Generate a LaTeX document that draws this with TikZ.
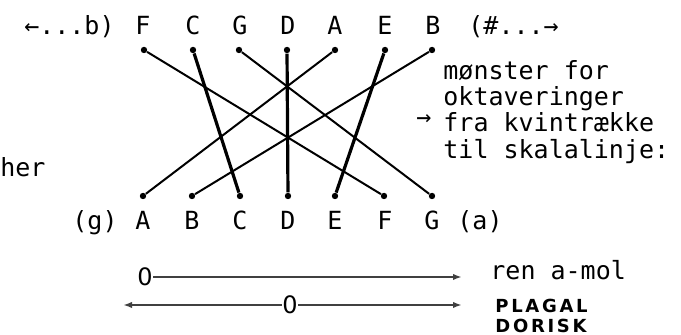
\documentclass[tikz,border=0pt]{standalone}
\usepackage{fontspec}
\setmonofont{DejaVu Sans Mono}
\setsansfont{DejaVu Sans}
\newfontfamily\capsfont[LetterSpace=15]{DejaVu Sans}
\usetikzlibrary{arrows.meta}

\begin{document}
\begin{tikzpicture}[x=0.5pt, y=-0.5pt,
    tone/.style={font=\ttfamily\fontsize{12.5}{14}\selectfont, inner sep=0pt, anchor=base},
    note/.style={font=\ttfamily\fontsize{12.5}{13.15}\selectfont, inner sep=0pt, anchor=base west},
    zero/.style={font=\sffamily\fontsize{12}{12}\selectfont, inner sep=0pt},
    caps/.style={font=\capsfont\bfseries\fontsize{9}{10}\selectfont, inner sep=0pt, anchor=base west},
    dot/.style={circle, fill, inner sep=0pt, minimum size=3.2pt},
    fine/.style={line width=1pt},
    heavy/.style={line width=1.6pt},
    axis/.style={line width=1pt, black!75},
    tip/.style={-{Latex[length=4.5pt,width=3.2pt]}}]

    \useasboundingbox (0,0) rectangle (681,335);

    % row of fifths
    \node[note, anchor=base east] (back) at (115,35) {←...b)};
    \node[tone] (fF) at (143,35) {F};
    \node[tone] (fC) at (193,35) {C};
    \node[tone] (fG) at (240,35) {G};
    \node[tone] (fD) at (288,35) {D};
    \node[tone] (fA) at (335,35) {A};
    \node[tone] (fE) at (385,35) {E};
    \node[tone] (fB) at (433,35) {B};
    \node[note] (fwd) at (468,35) {(\#...→};

    % scale row
    \node[tone] (lowg) at (95,230) {(g)};
    \node[tone] (sA) at (143,230) {A};
    \node[tone] (sB) at (192,230) {B};
    \node[tone] (sC) at (240,230) {C};
    \node[tone] (sD) at (288,230) {D};
    \node[tone] (sE) at (335,230) {E};
    \node[tone] (sF) at (385,230) {F};
    \node[tone] (sG) at (432,230) {G};
    \node[tone] (higha) at (480,230) {(a)};

    % end dots
    \node[dot] (uF) at (144,50) {};
    \node[dot] (uC) at (193,50) {};
    \node[dot] (uG) at (239,50) {};
    \node[dot] (uD) at (287,50) {};
    \node[dot] (uA) at (335,50) {};
    \node[dot] (uE) at (385,50) {};
    \node[dot] (uB) at (432,50) {};
    \node[dot] (dA) at (143,196) {};
    \node[dot] (dB) at (192,196) {};
    \node[dot] (dC) at (240,196) {};
    \node[dot] (dD) at (288,196) {};
    \node[dot] (dE) at (335,196) {};
    \node[dot] (dF) at (384,196) {};
    \node[dot] (dG) at (432,196) {};

    % octave moves
    \draw[fine] (uF) -- (dF);
    \draw[heavy] (uC) -- (dC);
    \draw[fine] (uG) -- (dG);
    \draw[heavy] (uD) -- (dD);
    \draw[fine] (uA) -- (dA);
    \draw[heavy] (uE) -- (dE);
    \draw[fine] (uB) -- (dB);

    % side texts
    \node[note] (here) at (0,177) {her};
    \node[note, anchor=center] (hint) at (424,120) {→};
    \node[note, anchor=north west, align=left] (rule) at (443,60)
        {mønster for\\oktaveringer\\fra kvintrække\\til skalalinje:};

    % modes
    \node[zero] (z1) at (145,277) {0};
    \coordinate (e1) at (462,277);
    \draw[axis, tip] (z1) -- (e1);
    \node[note] (pure) at (490,280) {ren a-mol};

    \node[zero] (z2) at (290,305) {0};
    \coordinate (w2) at (123,305);
    \coordinate (e2) at (462,305);
    \draw[axis, tip] (z2) -- (w2);
    \draw[axis, tip] (z2) -- (e2);
    \node[caps] (plagal) at (495,313) {PLAGAL};
    \node[caps] (dorisk) at (495,333) {DORISK};
\end{tikzpicture}
\end{document}
